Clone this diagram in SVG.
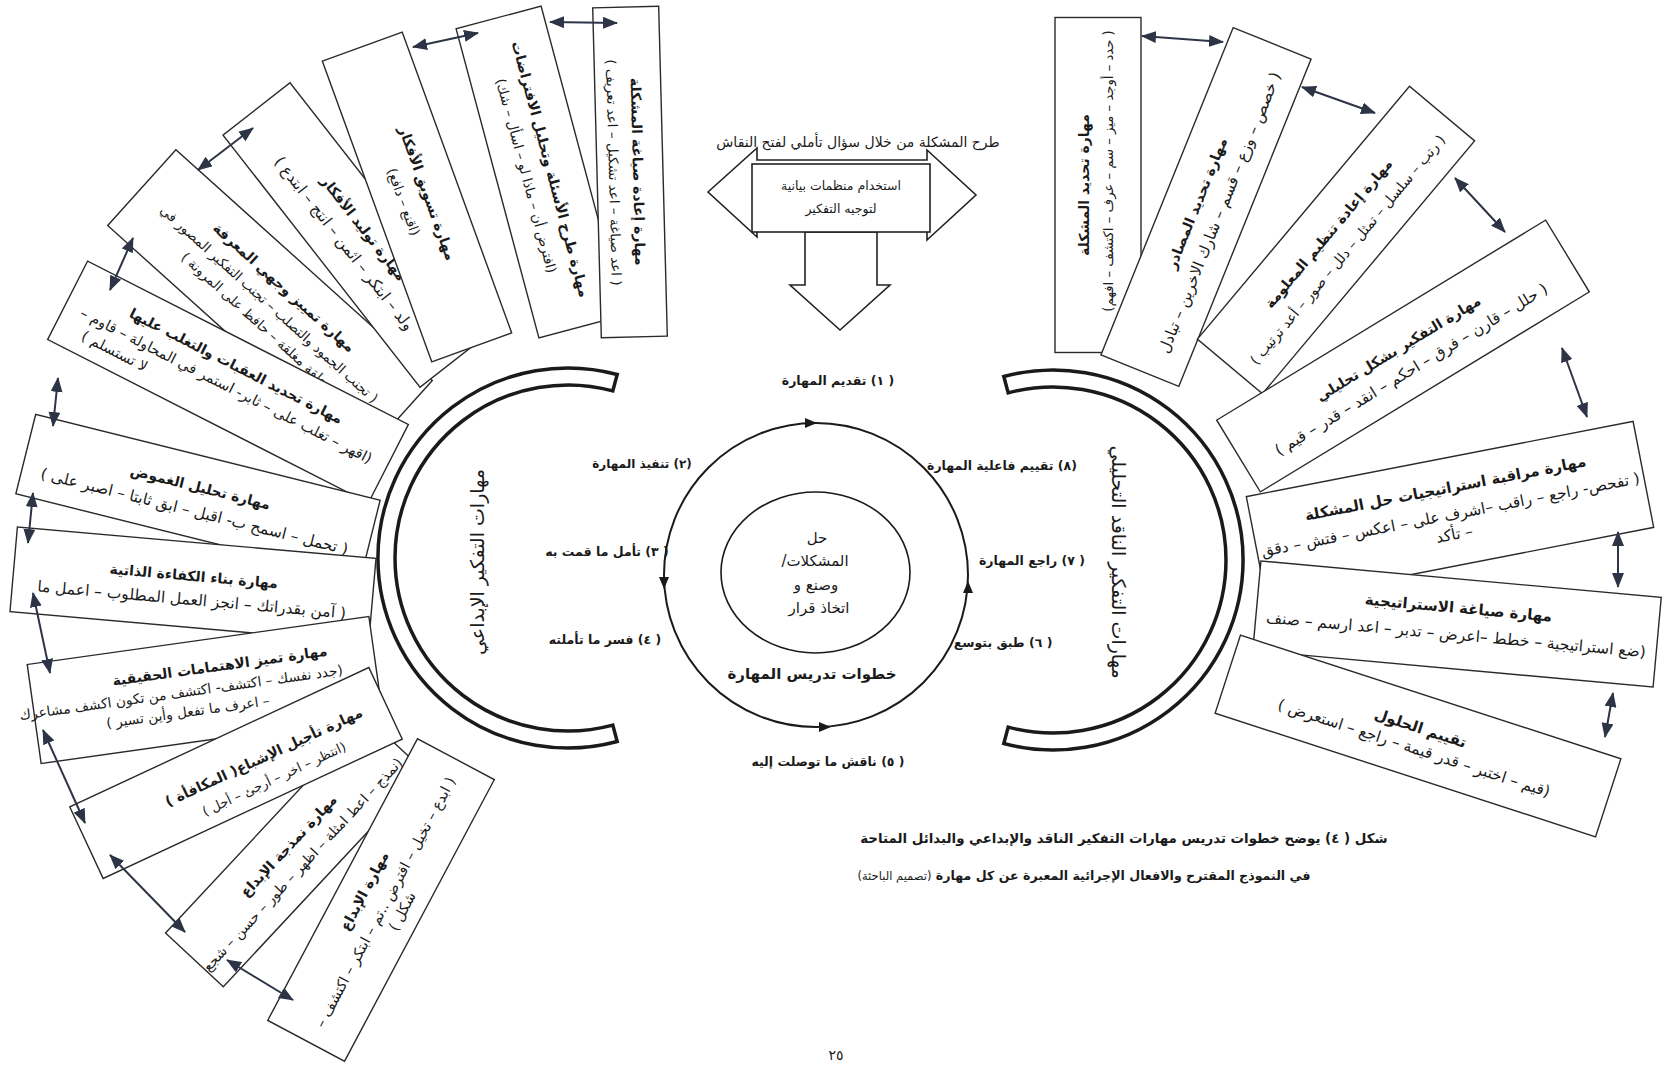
<svg xmlns="http://www.w3.org/2000/svg" width="1669" height="1065" viewBox="0 0 1669 1065">
<style>
.box{fill:#fff;stroke:#2a2a2a;stroke-width:1.4}
.h{font-family:"DejaVu Sans",sans-serif;font-size:14px;font-weight:bold;fill:#1a1a1a;direction:rtl;text-anchor:middle}
.t{font-family:"DejaVu Sans",sans-serif;font-size:14.5px;fill:#1a1a1a;direction:rtl;text-anchor:middle}
.tw{font-size:15.5px}
.tn{font-size:13.5px}
.s{font-family:"DejaVu Sans",sans-serif;font-size:12.5px;font-weight:bold;fill:#1a1a1a;direction:rtl;text-anchor:middle}
.big{font-family:"DejaVu Sans",sans-serif;font-size:19px;fill:#1a1a1a;direction:rtl;text-anchor:middle}
.cap{font-family:"DejaVu Sans",sans-serif;font-size:13.4px;font-weight:bold;fill:#1a1a1a;direction:rtl;text-anchor:middle}
.blk{fill:#fff;stroke:#222;stroke-width:1.6;stroke-linejoin:miter}
.arc{fill:none;stroke:#1a1a1a;stroke-width:3.5}
.con{stroke:#2d3446;stroke-width:2;fill:none;marker-start:url(#ah);marker-end:url(#ah)}
</style>
<defs>
<marker id="ah" markerUnits="userSpaceOnUse" markerWidth="15" markerHeight="12" refX="14" refY="6" orient="auto-start-reverse">
<path d="M0,0 L15,6 L0,12 Z" fill="#2d3446"/>
</marker>
</defs>
<rect width="1669" height="1065" fill="#fff"/>

<!-- top block arrows -->
<g id="top-arrows">
<text class="t" x="858" y="147" style="font-size:14px">طرح المشكلة من خلال سؤال تأملي لفتح النقاش</text>
<polygon class="blk" points="708,192 757,148 757,160 927,160 927,150 976,195 927,240 927,230 757,230 757,237"/>
<polygon class="blk" points="805,232 877,232 877,285 890,285 840,330 790,285 805,285"/>
<rect class="blk" x="752" y="164" width="178" height="68"/>
<text class="t" x="841" y="190" style="font-size:12.5px">استخدام منظمات بيانية</text>
<text class="t" x="841" y="213" style="font-size:12.5px">لتوجيه التفكير</text>
</g>

<!-- central cycle -->
<g id="center">
<circle cx="816" cy="575" r="152" fill="none" stroke="#1a1a1a" stroke-width="2"/>
<ellipse cx="815.5" cy="572.5" rx="94.5" ry="80.5" fill="none" stroke="#1a1a1a" stroke-width="1.6"/>
<path d="M817,423 L805,418 L805,428 Z" fill="#1a1a1a"/>
<path d="M664,589 L659,577 L669,577 Z" fill="#1a1a1a"/>
<path d="M831,727 L819,722 L819,732 Z" fill="#1a1a1a"/>
<path d="M968,581 L963,593 L973,593 Z" fill="#1a1a1a"/>
<text class="t" x="817" y="543" style="font-size:15px">حل</text>
<text class="t" x="815" y="566" style="font-size:15px">المشكلات/</text>
<text class="t" x="816" y="590" style="font-size:15px">وصنع و</text>
<text class="t" x="819" y="613" style="font-size:15px">اتخاذ قرار</text>
<text class="s" x="812" y="679" style="font-size:15px">خطوات تدريس المهارة</text>
</g>

<g id="steps">
<text class="s" x="838" y="385">( ١) تقديم المهارة</text>
<text class="s" x="642" y="468" style="font-size:12px">(٢) تنفيذ المهارة</text>
<text class="s" x="607" y="556">( ٣) تأمل ما قمت به</text>
<text class="s" x="605" y="644">( ٤) فسر ما تأملته</text>
<text class="s" x="828" y="766">( ٥)  ناقش ما توصلت إليه</text>
<text class="s" x="1003" y="647">( ٦) طبق بتوسع</text>
<text class="s" x="1032" y="565">( ٧) راجع المهارة</text>
<text class="s" x="1002" y="470">(٨) تقييم فاعلية المهارة</text>
</g>

<!-- arcs -->
<g id="arc-left">
<path class="arc" d="M617.2,374.5 A190,190 0 1 0 617.2,741.5 L612.8,725.1 A173,173 0 1 1 612.8,390.9 Z"/>
<text class="big" transform="translate(477,562) rotate(-90)" y="7">مهارات التفكير الإبداعي</text>
</g>
<g id="arc-right">
<path class="arc" d="M1003.8,376.5 A190,190 0 1 1 1003.8,743.5 L1008.2,727.1 A173,173 0 1 0 1008.2,392.9 Z"/>
<text class="big" transform="translate(1119,562) rotate(90)" y="7">مهارات التفكير الناقد التحليلي</text>
</g>

<!-- left boxes -->
<g id="L5" transform="translate(270,303) rotate(42)">
<rect class="box" x="-172.5" y="-51" width="345" height="102"/>
<text class="h" y="-16">مهارة تمييز وجهي المعرفة</text>
<text class="t tn" y="6">( تجنب الجمود والتصلب – تجنب التفكير المصور في</text>
<text class="t tn" y="27">حلقة مغلقة – حافظ على المرونة )</text>
</g>
<g id="L6" transform="translate(228,382) rotate(27)">
<rect class="box" x="-180" y="-44" width="360" height="88"/>
<text class="h" y="-13">مهارة تحديد العقبات والتغلب عليها</text>
<text class="t" y="9">(اقهر – تغلب على – ثابر- استمر في المحاولة – قاوم –</text>
<text class="t" x="-115" y="29">لا تستسلم )</text>
</g>
<g id="L4" transform="translate(355,235) rotate(52)">
<rect class="box" x="-160" y="-42.5" width="320" height="85"/>
<text class="h" y="-6">مهارة توليد الأفكار</text>
<text class="t tw" y="19">ولد – ابتكر – اثمن – انتج – ابتدع )</text>
</g>
<g id="L3" transform="translate(417,197) rotate(70)">
<rect class="box" x="-160" y="-42.5" width="320" height="85"/>
<text class="h" y="-6">مهارة تسويق الأفكار</text>
<text class="t tn" y="19">(اقنع – دافع)</text>
</g>
<g id="L2" transform="translate(540,172) rotate(75)">
<rect class="box" x="-160" y="-44" width="320" height="88"/>
<text class="h" y="-6">مهارة طرح الأسئلة وتحليل الافتراضات</text>
<text class="t tn" y="19">(افترض أن – ماذا لو – اسأل – شك)</text>
</g>
<g id="L1" transform="translate(630,172) rotate(88.5)">
<rect class="box" x="-165" y="-33" width="330" height="66"/>
<text class="h" y="-3">مهارة إعادة صياغة المشكلة</text>
<text class="t tn" y="21">( اعد صياغة – اعد تشكيل – اعد تعريف )</text>
</g>
<g id="L7" transform="translate(198,497) rotate(14)">
<rect class="box" x="-177.5" y="-41" width="355" height="82"/>
<text class="h" y="-5">مهارة تحليل الغموض</text>
<text class="t tw" y="20">( تحمل – اسمح ب- اقبل – ابق ثابتا – اصبر على )</text>
</g>
<g id="L8" transform="translate(193,585) rotate(5)">
<rect class="box" x="-180" y="-42.5" width="360" height="85"/>
<text class="h" y="-4">مهارة بناء الكفاءة الذاتية</text>
<text class="t tw" y="20">( آمن بقدراتك – انجز العمل المطلوب – اعمل ما</text>
</g>
<g id="L9" transform="translate(205,690) rotate(-8)">
<rect class="box" x="-172.5" y="-50" width="345" height="100"/>
<text class="h" x="18" y="-17">مهارة تميز الاهتمامات الحقيقية</text>
<text class="t" x="-24" y="4" style="font-size:13.8px">(جدد نفسك – اكتشف- اكتشف من تكون اكشف مشاعرك</text>
<text class="t" x="-20" y="24" style="font-size:13.8px">– اعرف ما تفعل وأين تسير )</text>
</g>
<g id="L11" transform="translate(295,852) rotate(-47)">
<rect class="box" x="-147.5" y="-39.5" width="295" height="79"/>
<text class="h" y="-4">مهارة نمذجة الإبداع</text>
<text class="t" x="-4" y="19" style="font-size:14px">(نمذج – اعط امثلة – اظهر – طور – حسن – شجع</text>
</g>
<g id="L10" transform="translate(236,773) rotate(-25)">
<rect class="box" x="-165" y="-39.5" width="330" height="79"/>
<text class="h" x="32" y="2">مهارة تأجيل الإشباع( المكافأة )</text>
<text class="t" x="32" y="26" style="font-size:13px">(انتظر – اخر – أرجئ – أجل )</text>
</g>
<g id="L12" transform="translate(381,900) rotate(-62)">
<rect class="box" x="-159.5" y="-43.5" width="319" height="87"/>
<text class="h" y="-14">مهارة الإبداع</text>
<text class="t" y="10">( ابدع – تخيل – افترض ..تم – ابتكر – اكتشف –</text>
<text class="t" y="29">شكل )</text>
</g>

<!-- right boxes -->
<g id="R1" transform="translate(1098,185) rotate(-90)">
<rect class="box" x="-167.5" y="-43" width="335" height="86"/>
<text class="h" y="-9">مهارة تحديد المشكلة</text>
<text class="t" x="14" y="15" style="font-size:13.2px">( حدد – أوجد – ميز – سم – عرف – اكتشف – افهم)</text>
</g>
<g id="R2" transform="translate(1206,207) rotate(-68)">
<rect class="box" x="-176.5" y="-42" width="353" height="84"/>
<text class="h" y="-5">مهارة تحديد المصادر</text>
<text class="t tw" y="20">( خصص – وزع – قسم – شارك الاخرين – تبادل</text>
</g>
<g id="R3" transform="translate(1336,240) rotate(-50)">
<rect class="box" x="-165" y="-42.5" width="330" height="85"/>
<text class="h" y="-5">مهارة إعادة تنظيم المعلومة</text>
<text class="t" y="20" style="font-size:14px">( رتب – سلسل – تمثل – دلل – صور – أعد ترتيب )</text>
</g>
<g id="R4" transform="translate(1403,356) rotate(-31.3)">
<rect class="box" x="-192.5" y="-42" width="385" height="84"/>
<text class="h" y="-4">مهارة التفكير بشكل تحليلي</text>
<text class="t tw" y="21">( حلل – قارن – فرق – احكم – انقد – قدر – قيم )</text>
</g>
<g id="R5" transform="translate(1450,512) rotate(-11)">
<rect class="box" x="-197" y="-54" width="394" height="108"/>
<text class="h" y="-19" style="font-size:15px">مهارة مراقبة استراتيجيات حل المشكلة</text>
<text class="t tw" y="8">( تفحص- راجع – راقب –اشرف على – اعكس – فتش – دقق</text>
<text class="t tw" y="28">– تأكد</text>
</g>
<g id="R6" transform="translate(1457,624) rotate(5.2)">
<rect class="box" x="-201" y="-45" width="402" height="90"/>
<text class="h" y="-11" style="font-size:15px">مهارة صياغة الاستراتيجية</text>
<text class="t tw" y="16">(ضع استراتيجية – خطط –اعرض – تدبر – اعد ارسم – صنف</text>
</g>
<g id="R7" transform="translate(1418,736) rotate(18)">
<rect class="box" x="-200" y="-41" width="400" height="82"/>
<text class="h" y="-3" style="font-size:15px">تقييم الحلول</text>
<text class="t tw" y="18">(قيم – اختبر – قدر قيمة – راجع – استعرض )</text>
</g>

<!-- connectors -->
<g id="connectors">
<line class="con" x1="550" y1="22" x2="617" y2="23"/>
<line class="con" x1="413" y1="47" x2="478" y2="33"/>
<line class="con" x1="198" y1="170" x2="253" y2="128"/>
<line class="con" x1="133" y1="238" x2="110" y2="290"/>
<line class="con" x1="58" y1="378" x2="53" y2="426"/>
<line class="con" x1="33" y1="493" x2="28" y2="543"/>
<line class="con" x1="33" y1="593" x2="50" y2="673"/>
<line class="con" x1="43" y1="730" x2="85" y2="823"/>
<line class="con" x1="110" y1="855" x2="185" y2="932"/>
<line class="con" x1="227" y1="960" x2="293" y2="1000"/>
<line class="con" x1="1142" y1="36" x2="1223" y2="42"/>
<line class="con" x1="1302" y1="87" x2="1375" y2="113"/>
<line class="con" x1="1455" y1="178" x2="1505" y2="232"/>
<line class="con" x1="1562" y1="348" x2="1587" y2="417"/>
<line class="con" x1="1618" y1="532" x2="1618" y2="587"/>
<line class="con" x1="1613" y1="693" x2="1605" y2="737"/>
</g>

<g id="caption">
<text class="cap" x="1124" y="843">شكل   ( ٤)  يوضح خطوات تدريس مهارات التفكير الناقد والإبداعي والبدائل المتاحة</text>
<text class="cap" x="1084" y="880" style="font-size:12.6px">في النموذج المقترح والافعال الإجرائية المعبرة عن كل مهارة <tspan style="font-size:11.5px;font-weight:normal">(تصميم  الباحثة)</tspan></text>
<text class="t" x="836" y="1060" style="font-size:14px">٢٥</text>
</g>
</svg>
